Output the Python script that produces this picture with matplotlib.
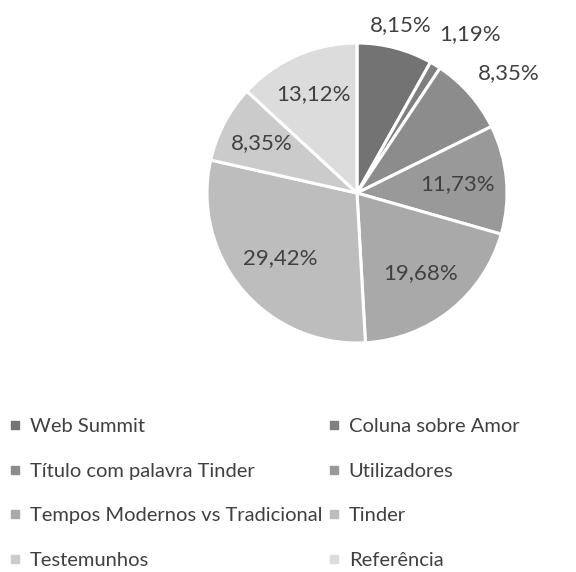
import matplotlib
matplotlib.use("Agg")
import matplotlib.pyplot as plt
from matplotlib.lines import Line2D
import numpy as np

categories = ["Web Summit", "Coluna sobre Amor", "Título com palavra Tinder", "Utilizadores",
              "Tempos Modernos vs Tradicional", "Tinder", "Testemunhos", "Referência"]
values = [8.15, 1.19, 8.35, 11.73, 19.68, 29.42, 8.35, 13.12]
labels = ["8,15%", "1,19%", "8,35%", "11,73%", "19,68%", "29,42%", "8,35%", "13,12%"]

colors = ["#737373", "#7f7f7f", "#8c8c8c", "#999999", "#a9a9a9", "#bdbdbd", "#cbcbcb", "#dcdcdc"]
label_r = [1.16, 1.30, 1.29, 0.67, 0.68, 0.67, 0.72, 0.72]
label_da = [0, -4, -3, 0, 0, 0, 0, 0]

plt.rcParams['font.family'] = ['Lato', 'DejaVu Sans']
text_color = "#404040"

W, H = 576, 572
fig = plt.figure(figsize=(W / 100, H / 100), dpi=100)
cx, cy, R = 357, 193, 150
ax = fig.add_axes([(cx - R) / W, (H - cy - R) / H, 2 * R / W, 2 * R / H])
wedges, _ = ax.pie(values, colors=colors, startangle=90, counterclock=False, radius=1,
                   wedgeprops=dict(edgecolor="white", linewidth=2.2))
ax.set_xlim(-1, 1)
ax.set_ylim(-1, 1)
ax.set_aspect("equal")
ax.axis("off")

total = sum(values)
cum = 0
for v, lab, r, da in zip(values, labels, label_r, label_da):
    mid = 90 - 360 * (cum + v / 2) / total + da
    cum += v
    t = np.deg2rad(mid)
    ax.text(r * np.cos(t), r * np.sin(t), lab, ha="center", va="center",
            fontsize=16, color=text_color)

handles = [Line2D([], [], linestyle="none", marker="s", markersize=6,
                  markerfacecolor=c, markeredgecolor=c) for c in colors]
order = [0, 2, 4, 6, 1, 3, 5, 7]
leg = fig.legend([handles[i] for i in order], [categories[i] for i in order],
                 ncol=2, loc="upper left",
                 bbox_to_anchor=(9 / W, 1 - 418 / H), frameon=False,
                 fontsize=14.5, labelcolor=text_color, handlelength=0.6,
                 handletextpad=0.45, columnspacing=0.25, labelspacing=1.37,
                 borderpad=0, borderaxespad=0)

fig.savefig("out.png", dpi=100, facecolor="white")
